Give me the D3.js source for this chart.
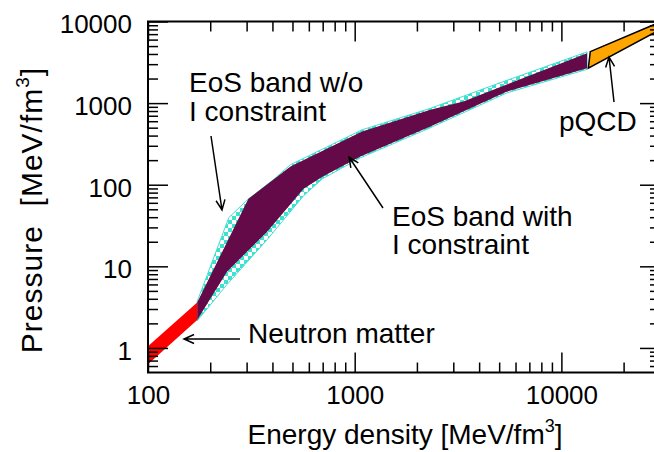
<!DOCTYPE html>
<html><head><meta charset="utf-8">
<script src="https://cdn.jsdelivr.net/npm/d3@7"></script>
<style>
html,body{margin:0;padding:0;background:#fff;}
svg{display:block;font-family:"Liberation Sans",Arial,sans-serif;}
</style></head>
<body>
<svg id="c" width="654" height="452"></svg>
<script>
// ---------- data ----------
const xMajor = [100, 1000, 10000];
const xMinor = [200,300,400,500,600,700,800,900,2000,3000,4000,5000,6000,7000,8000,9000,20000];
const yMajor = [1, 10, 100, 1000, 10000];
const yMinor = [0.6,0.7,0.8,0.9,2,3,4,5,6,7,8,9,20,30,40,50,60,70,80,90,200,300,400,500,600,700,800,900,2000,3000,4000,5000,6000,7000,8000,9000];

// Neutron matter band
const nmE = [100, 173];
const nmPLow = [0.63, 2.2];
const nmPHigh = [1.05, 3.6];

// EoS band with I constraint
const withUpperE = [173, 306, 489, 1086, 2324, 3357, 13310];
const withUpperP = [3.6, 67.4, 167, 449, 828, 1047, 4093];
const withLowerE = [173, 241, 377, 566, 698, 1066, 2324, 5460, 13310];
const withLowerP = [2.2, 8.6, 26.6, 89.3, 125, 222, 517, 1387, 2682];

// EoS band without I constraint
const woUpperE = [173, 246, 303, 404, 489, 1086, 2324, 4887, 13310];
const woUpperP = [3.7, 39.5, 65.5, 115, 176, 471, 863, 1722, 4246];
const woLowerE = [173, 241, 377, 566, 698, 1066, 2324, 5460, 13310];
const woLowerP = [2.15, 5.97, 21.2, 73.3, 118, 214, 499, 1337, 2594];

// pQCD band
const pqcdHighE = [13800, 30000];
const pqcdHighP = [4280, 9830];
const pqcdLowE = [13500, 30000];
const pqcdLowP = [2680, 7960];

// ---------- chart ----------
const svg = d3.select("#c");
const L = 148, R = 660, T = 21.5, B = 372.5;
const x = d3.scaleLog().domain([100, 30000]).range([L, R]);
const y = d3.scaleLog().domain([0.5, 10000]).range([B, T]);

const defs = svg.append("defs");
defs.append("clipPath").attr("id","clip").append("rect")
  .attr("x",L).attr("y",T).attr("width",R-L).attr("height",B-T);
const pat = defs.append("pattern").attr("id","chk").attr("patternUnits","userSpaceOnUse")
  .attr("width",8).attr("height",8);
pat.append("rect").attr("width",8).attr("height",8).attr("fill","#ffffff");
pat.append("rect").attr("width",4).attr("height",4).attr("fill","#40e0d0");
pat.append("rect").attr("x",4).attr("y",4).attr("width",4).attr("height",4).attr("fill","#40e0d0");

function band(upE, upP, loE, loP){
  const up = upE.map((e,i)=>[x(e), y(upP[i])]);
  const lo = loE.map((e,i)=>[x(e), y(loP[i])]).reverse();
  return d3.line()(up.concat(lo)) + "Z";
}

const g = svg.append("g").attr("clip-path","url(#clip)");
g.append("path").attr("d", band(woUpperE, woUpperP, woLowerE, woLowerP))
  .attr("fill","url(#chk)").attr("stroke","#40e0d0").attr("stroke-width",1);
g.append("path").attr("d", band(withUpperE, withUpperP, withLowerE, withLowerP))
  .attr("fill","#650a48");
g.append("path").attr("d", band(nmE, nmPHigh, nmE, nmPLow))
  .attr("fill","#ff0000");
g.append("path").attr("d", band(pqcdHighE, pqcdHighP, pqcdLowE, pqcdLowP))
  .attr("fill","#ffa500").attr("stroke","#000").attr("stroke-width",1.5).attr("stroke-linejoin","miter");

// ---------- axes ----------
function styleAxis(sel){
  sel.select(".domain").remove();
  sel.selectAll("line").attr("stroke","#000").attr("stroke-width",1.5);
  sel.selectAll("text").attr("font-size",26).attr("fill","#000")
     .attr("font-family","'Liberation Sans',Arial,sans-serif");
}
const fmt = d => String(d);
// bottom
svg.append("g").attr("transform",`translate(0,${B})`)
  .call(d3.axisBottom(x).tickValues(xMinor).tickSize(-10).tickFormat("")).call(styleAxis);
svg.append("g").attr("transform",`translate(0,${B})`)
  .call(d3.axisBottom(x).tickValues(xMajor).tickSize(-20).tickPadding(13).tickFormat(fmt)).call(styleAxis);
// top
svg.append("g").attr("transform",`translate(0,${T})`)
  .call(d3.axisTop(x).tickValues(xMinor).tickSize(-10).tickFormat("")).call(styleAxis);
svg.append("g").attr("transform",`translate(0,${T})`)
  .call(d3.axisTop(x).tickValues(xMajor).tickSize(-20).tickFormat("")).call(styleAxis);
// left
svg.append("g").attr("transform",`translate(${L},0)`)
  .call(d3.axisLeft(y).tickValues(yMinor).tickSize(-10).tickFormat("")).call(styleAxis);
const ly = svg.append("g").attr("transform",`translate(${L},0)`)
  .call(d3.axisLeft(y).tickValues(yMajor).tickSize(-20).tickPadding(16).tickFormat(fmt)).call(styleAxis);
ly.selectAll("text").attr("dy","0.44em");
// right
svg.append("g").attr("transform",`translate(${R},0)`)
  .call(d3.axisRight(y).tickValues(yMinor).tickSize(-10).tickFormat("")).call(styleAxis);
svg.append("g").attr("transform",`translate(${R},0)`)
  .call(d3.axisRight(y).tickValues(yMajor).tickSize(-20).tickFormat("")).call(styleAxis);

// frame
svg.append("rect").attr("x",L).attr("y",T).attr("width",R-L).attr("height",B-T)
  .attr("fill","none").attr("stroke","#000").attr("stroke-width",2);

// axis titles
const xt = svg.append("text").attr("x",405).attr("y",444).attr("text-anchor","middle")
  .attr("font-size",28).attr("fill","#000");
xt.append("tspan").text("Energy density [MeV/fm");
xt.append("tspan").attr("font-size",18).attr("dy",-12).text("3");
xt.append("tspan").attr("dy",12).text("]");

const yt = svg.append("text").attr("transform","translate(42,210) rotate(-90)")
  .attr("text-anchor","middle").attr("font-size",30).attr("letter-spacing",1)
  .attr("fill","#000").style("white-space","pre");
yt.append("tspan").text("Pressure  [MeV/fm");
yt.append("tspan").attr("font-size",19).attr("dy",-13).text("3");
yt.append("tspan").attr("dy",13).text("]");

// annotations
function txt(t, px, py){
  svg.append("text").attr("x",px).attr("y",py).attr("font-size",28).attr("fill","#000").text(t);
}
txt("EoS band w/o", 189, 92);
txt("I constraint", 189, 121);
txt("EoS band with", 392, 226);
txt("I constraint", 392, 254);
txt("pQCD", 559, 131);
txt("Neutron matter", 248, 343);

function arrow(x1,y1,x2,y2){
  const a = Math.atan2(y2-y1, x2-x1), h = 11, w = 0.42;
  const p1 = [x2 - h*Math.cos(a-w), y2 - h*Math.sin(a-w)];
  const p2 = [x2 - h*Math.cos(a+w), y2 - h*Math.sin(a+w)];
  svg.append("path")
    .attr("d",`M${x1},${y1}L${x2},${y2}M${p1[0]},${p1[1]}L${x2},${y2}L${p2[0]},${p2[1]}`)
    .attr("fill","none").attr("stroke","#000").attr("stroke-width",1.5);
}
arrow(211,136,222,210);
arrow(383,208,349,157);
arrow(614,102,609,57);
arrow(240,339,184,339);
</script>
</body></html>
